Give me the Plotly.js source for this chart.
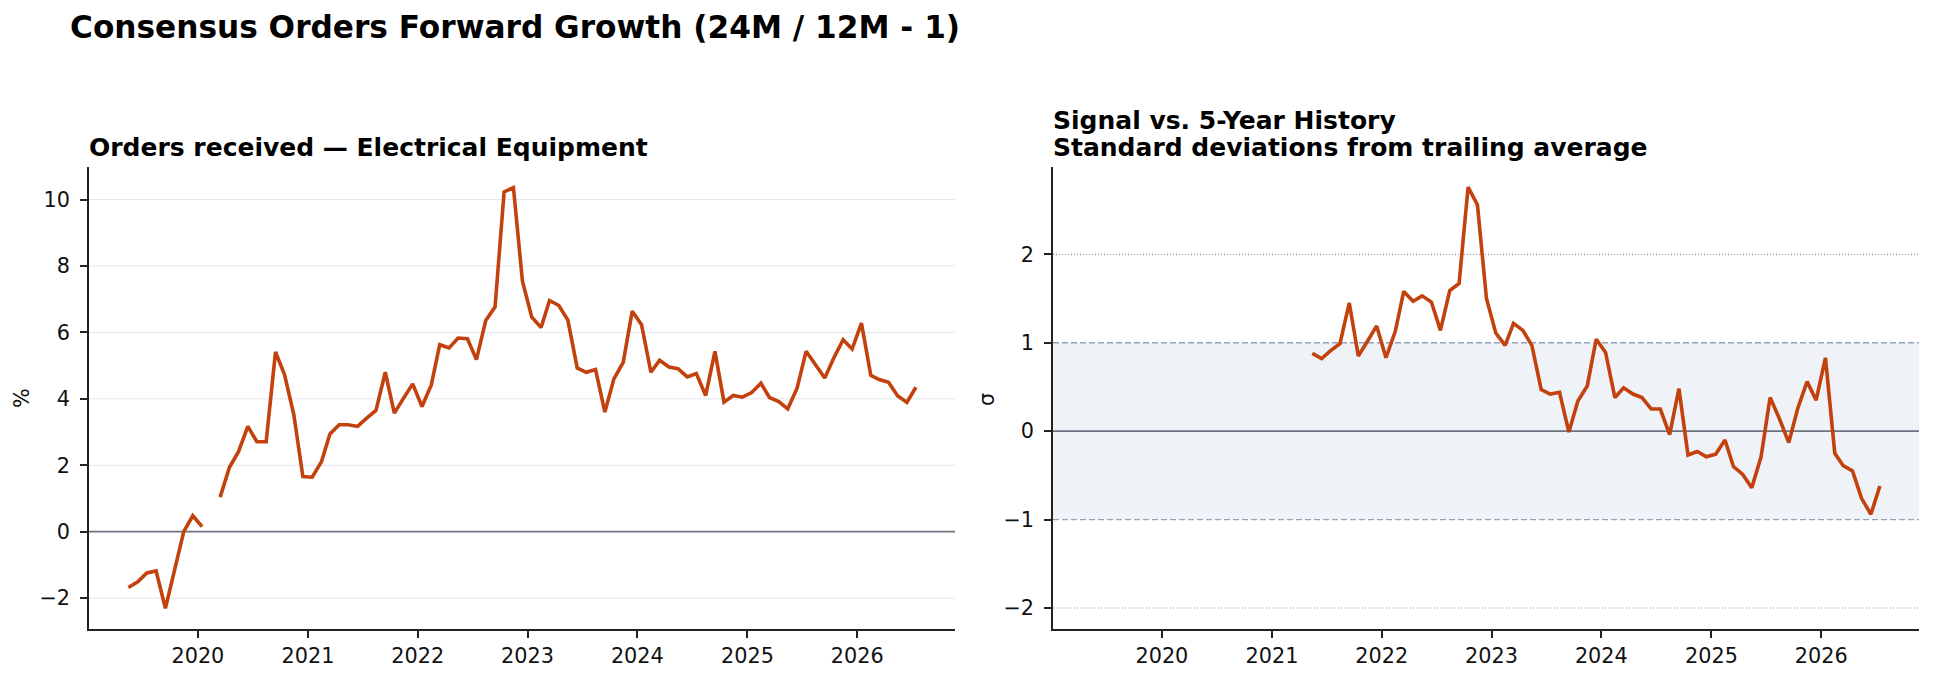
<!DOCTYPE html>
<html>
<head>
<meta charset="utf-8">
<script src="https://cdn.plot.ly/plotly-3.0.1.min.js"></script>
<style>
html,body{margin:0;padding:0;background:#fff;}
#chart{width:1934px;height:679px;}
</style>
</head>
<body>
<div id="chart"></div>
<script>
// ---- DATA ----
const months = [
 "2019-05-15","2019-06-15","2019-07-15","2019-08-15","2019-09-15","2019-10-15","2019-11-15","2019-12-15",
 "2020-01-15","2020-02-15","2020-03-15","2020-04-15","2020-05-15","2020-06-15","2020-07-15","2020-08-15","2020-09-15","2020-10-15","2020-11-15","2020-12-15",
 "2021-01-15","2021-02-15","2021-03-15","2021-04-15","2021-05-15","2021-06-15","2021-07-15","2021-08-15","2021-09-15","2021-10-15","2021-11-15","2021-12-15",
 "2022-01-15","2022-02-15","2022-03-15","2022-04-15","2022-05-15","2022-06-15","2022-07-15","2022-08-15","2022-09-15","2022-10-15","2022-11-15","2022-12-15",
 "2023-01-15","2023-02-15","2023-03-15","2023-04-15","2023-05-15","2023-06-15","2023-07-15","2023-08-15","2023-09-15","2023-10-15","2023-11-15","2023-12-15",
 "2024-01-15","2024-02-15","2024-03-15","2024-04-15","2024-05-15","2024-06-15","2024-07-15","2024-08-15","2024-09-15","2024-10-15","2024-11-15","2024-12-15",
 "2025-01-15","2025-02-15","2025-03-15","2025-04-15","2025-05-15","2025-06-15","2025-07-15","2025-08-15","2025-09-15","2025-10-15","2025-11-15","2025-12-15",
 "2026-01-15","2026-02-15","2026-03-15","2026-04-15","2026-05-15","2026-06-15","2026-07-15"
];
const growthPct = [
 -1.68,-1.51,-1.24,-1.18,-2.31,-1.12,0.00,0.48,
 0.15,null,1.04,1.94,2.41,3.17,2.71,2.71,5.41,4.73,3.52,1.66,
 1.64,2.11,2.94,3.22,3.22,3.17,3.42,3.65,4.80,3.57,4.02,4.45,
 3.77,4.42,5.63,5.53,5.83,5.81,5.18,6.36,6.77,10.23,10.36,7.54,
 6.46,6.15,6.96,6.81,6.37,4.93,4.80,4.88,3.60,4.60,5.10,6.64,
 6.23,4.80,5.16,4.96,4.91,4.66,4.76,4.10,5.43,3.90,4.10,4.05,
 4.19,4.47,4.04,3.92,3.70,4.32,5.43,5.05,4.63,5.23,5.78,5.50,
 6.28,4.71,4.58,4.50,4.09,3.89,4.35
];
const zMonths = months.slice(24); // signal starts 2021-05
const zScore = [
 0.88,0.82,0.91,0.99,1.45,0.85,1.02,1.19,
 0.83,1.13,1.58,1.47,1.53,1.46,1.14,1.59,1.67,2.76,2.56,1.50,
 1.11,0.97,1.22,1.14,0.97,0.47,0.42,0.44,-0.01,0.34,0.51,1.04,
 0.89,0.38,0.49,0.42,0.38,0.25,0.25,-0.04,0.48,-0.27,-0.23,-0.29,
 -0.26,-0.10,-0.40,-0.49,-0.64,-0.29,0.38,0.14,-0.13,0.26,0.56,0.35,
 0.83,-0.25,-0.39,-0.45,-0.76,-0.94,-0.62
];
const yearTicks = ["2020-01-01","2021-01-01","2022-01-01","2023-01-01","2024-01-01","2025-01-01","2026-01-01"];
const yearLabels = ["2020","2021","2022","2023","2024","2025","2026"];
const leftTicks = [-2,0,2,4,6,8,10];
const leftTickText = ["\u22122","0","2","4","6","8","10"];
const rightTicks = [-2,-1,0,1,2];
const rightTickText = ["\u22122","\u22121","0","1","2"];

const mainTitle = "Consensus Orders Forward Growth (24M / 12M - 1)";
const leftTitle = "Orders received \u2014 Electrical Equipment";
const rightTitle1 = "Signal vs. 5-Year History";
const rightTitle2 = "Standard deviations from trailing average";

// ---- LAYOUT ----
const W = 1934, H = 679;
const px = v => v / W;
const py = v => 1 - v / H;
const FONT = "DejaVu Sans, Liberation Sans, sans-serif";
const LINE = "#c2410c";
const TICK = 20.8;
const xRange = ["2019-01-04", "2026-11-22"];

const xBase = {
  type: "date", range: xRange, tickvals: yearTicks, ticktext: yearLabels,
  showgrid: false, zeroline: false, showline: true, linecolor: "#222", linewidth: 1.5,
  ticks: "outside", ticklen: 7, tickwidth: 1.5, tickcolor: "#222",
  tickfont: {family: FONT, size: TICK, color: "#111"}, automargin: false, fixedrange: true
};
const yBase = {
  zeroline: false, showline: true, linecolor: "#222", linewidth: 1.5,
  ticks: "outside", ticklen: 7, tickwidth: 1.5, tickcolor: "#222",
  tickfont: {family: FONT, size: TICK, color: "#111"}, automargin: false, fixedrange: true,
  ticklabelstandoff: 6, showgrid: false
};

const traces = [
  {x: months, y: growthPct, type: "scatter", mode: "lines", xaxis: "x", yaxis: "y",
   line: {color: LINE, width: 3.6}, connectgaps: false, hoverinfo: "x+y"},
  {x: zMonths, y: zScore, type: "scatter", mode: "lines", xaxis: "x2", yaxis: "y2",
   line: {color: LINE, width: 3.6}, hoverinfo: "x+y"}
];

// left panel gridlines at tick values (drawn as shapes so the zero line can sit on top)
const hline = (xref, yref, y, color, width, dash) => ({
  type: "line", xref: xref, yref: yref, x0: 0, x1: 1, y0: y, y1: y, layer: "below",
  line: {color: color, width: width, dash: dash || "solid"}
});
const shapes = [];
leftTicks.filter(v => v !== 0).forEach(v => shapes.push(hline("x domain", "y", v, "#e3e5ea", 1)));
shapes.push(hline("x domain", "y", 0, "#6b7280", 1.8));
shapes.push({type: "rect", xref: "x2 domain", yref: "y2", x0: 0, x1: 1, y0: -1, y1: 1, layer: "below",
  fillcolor: "#eff2f7", line: {width: 0}});
shapes.push(hline("x2 domain", "y2", 1, "#94a3b8", 1.4, "6px,3px"));
shapes.push(hline("x2 domain", "y2", -1, "#94a3b8", 1.4, "6px,3px"));
shapes.push(hline("x2 domain", "y2", 2, "#8a94a6", 1.2, "1px,2px"));
shapes.push(hline("x2 domain", "y2", -2, "#8a94a6", 1.2, "1px,2px"));
shapes.push(hline("x2 domain", "y2", 0, "#6b7280", 1.8));

const layout = {
  width: W, height: H, margin: {l: 0, r: 0, t: 0, b: 0},
  paper_bgcolor: "#fff", plot_bgcolor: "#fff", showlegend: false,
  font: {family: FONT, color: "#111"},
  xaxis: Object.assign({}, xBase, {domain: [px(89), px(955)], anchor: "y"}),
  yaxis: Object.assign({}, yBase, {domain: [py(629), py(167)], anchor: "x", range: [-2.93, 10.98],
    tickvals: leftTicks, ticktext: leftTickText}),
  xaxis2: Object.assign({}, xBase, {domain: [px(1053), px(1919)], anchor: "y2"}),
  yaxis2: Object.assign({}, yBase, {domain: [py(629), py(167)], anchor: "x2", range: [-2.2375, 2.9875],
    tickvals: rightTicks, ticktext: rightTickText}),
  shapes: shapes,
  annotations: [
    {text: "<b>" + mainTitle + "</b>", xref: "paper", yref: "paper", x: px(68), y: py(27),
     xanchor: "left", yanchor: "middle", showarrow: false, font: {family: FONT, size: 31.2, color: "#000"}},
    {text: "<b>" + leftTitle + "</b>", xref: "paper", yref: "paper", x: px(87), y: py(147),
     xanchor: "left", yanchor: "middle", showarrow: false, font: {family: FONT, size: 25, color: "#000"}},
    {text: "<b>" + rightTitle1 + "</b>", xref: "paper", yref: "paper", x: px(1051), y: py(120),
     xanchor: "left", yanchor: "middle", showarrow: false, font: {family: FONT, size: 25, color: "#000"}},
    {text: "<b>" + rightTitle2 + "</b>", xref: "paper", yref: "paper", x: px(1051), y: py(147),
     xanchor: "left", yanchor: "middle", showarrow: false, font: {family: FONT, size: 25, color: "#000"}},
    {text: "%", xref: "paper", yref: "paper", x: px(22), y: py(398), textangle: -90,
     xanchor: "center", yanchor: "middle", showarrow: false, font: {family: FONT, size: TICK, color: "#111"}},
    {text: "\u03c3", xref: "paper", yref: "paper", x: px(987), y: py(400), textangle: -90,
     xanchor: "center", yanchor: "middle", showarrow: false, font: {family: FONT, size: TICK, color: "#111"}}
  ]
};

Plotly.newPlot("chart", traces, layout, {displayModeBar: false, responsive: false});
</script>
</body>
</html>
